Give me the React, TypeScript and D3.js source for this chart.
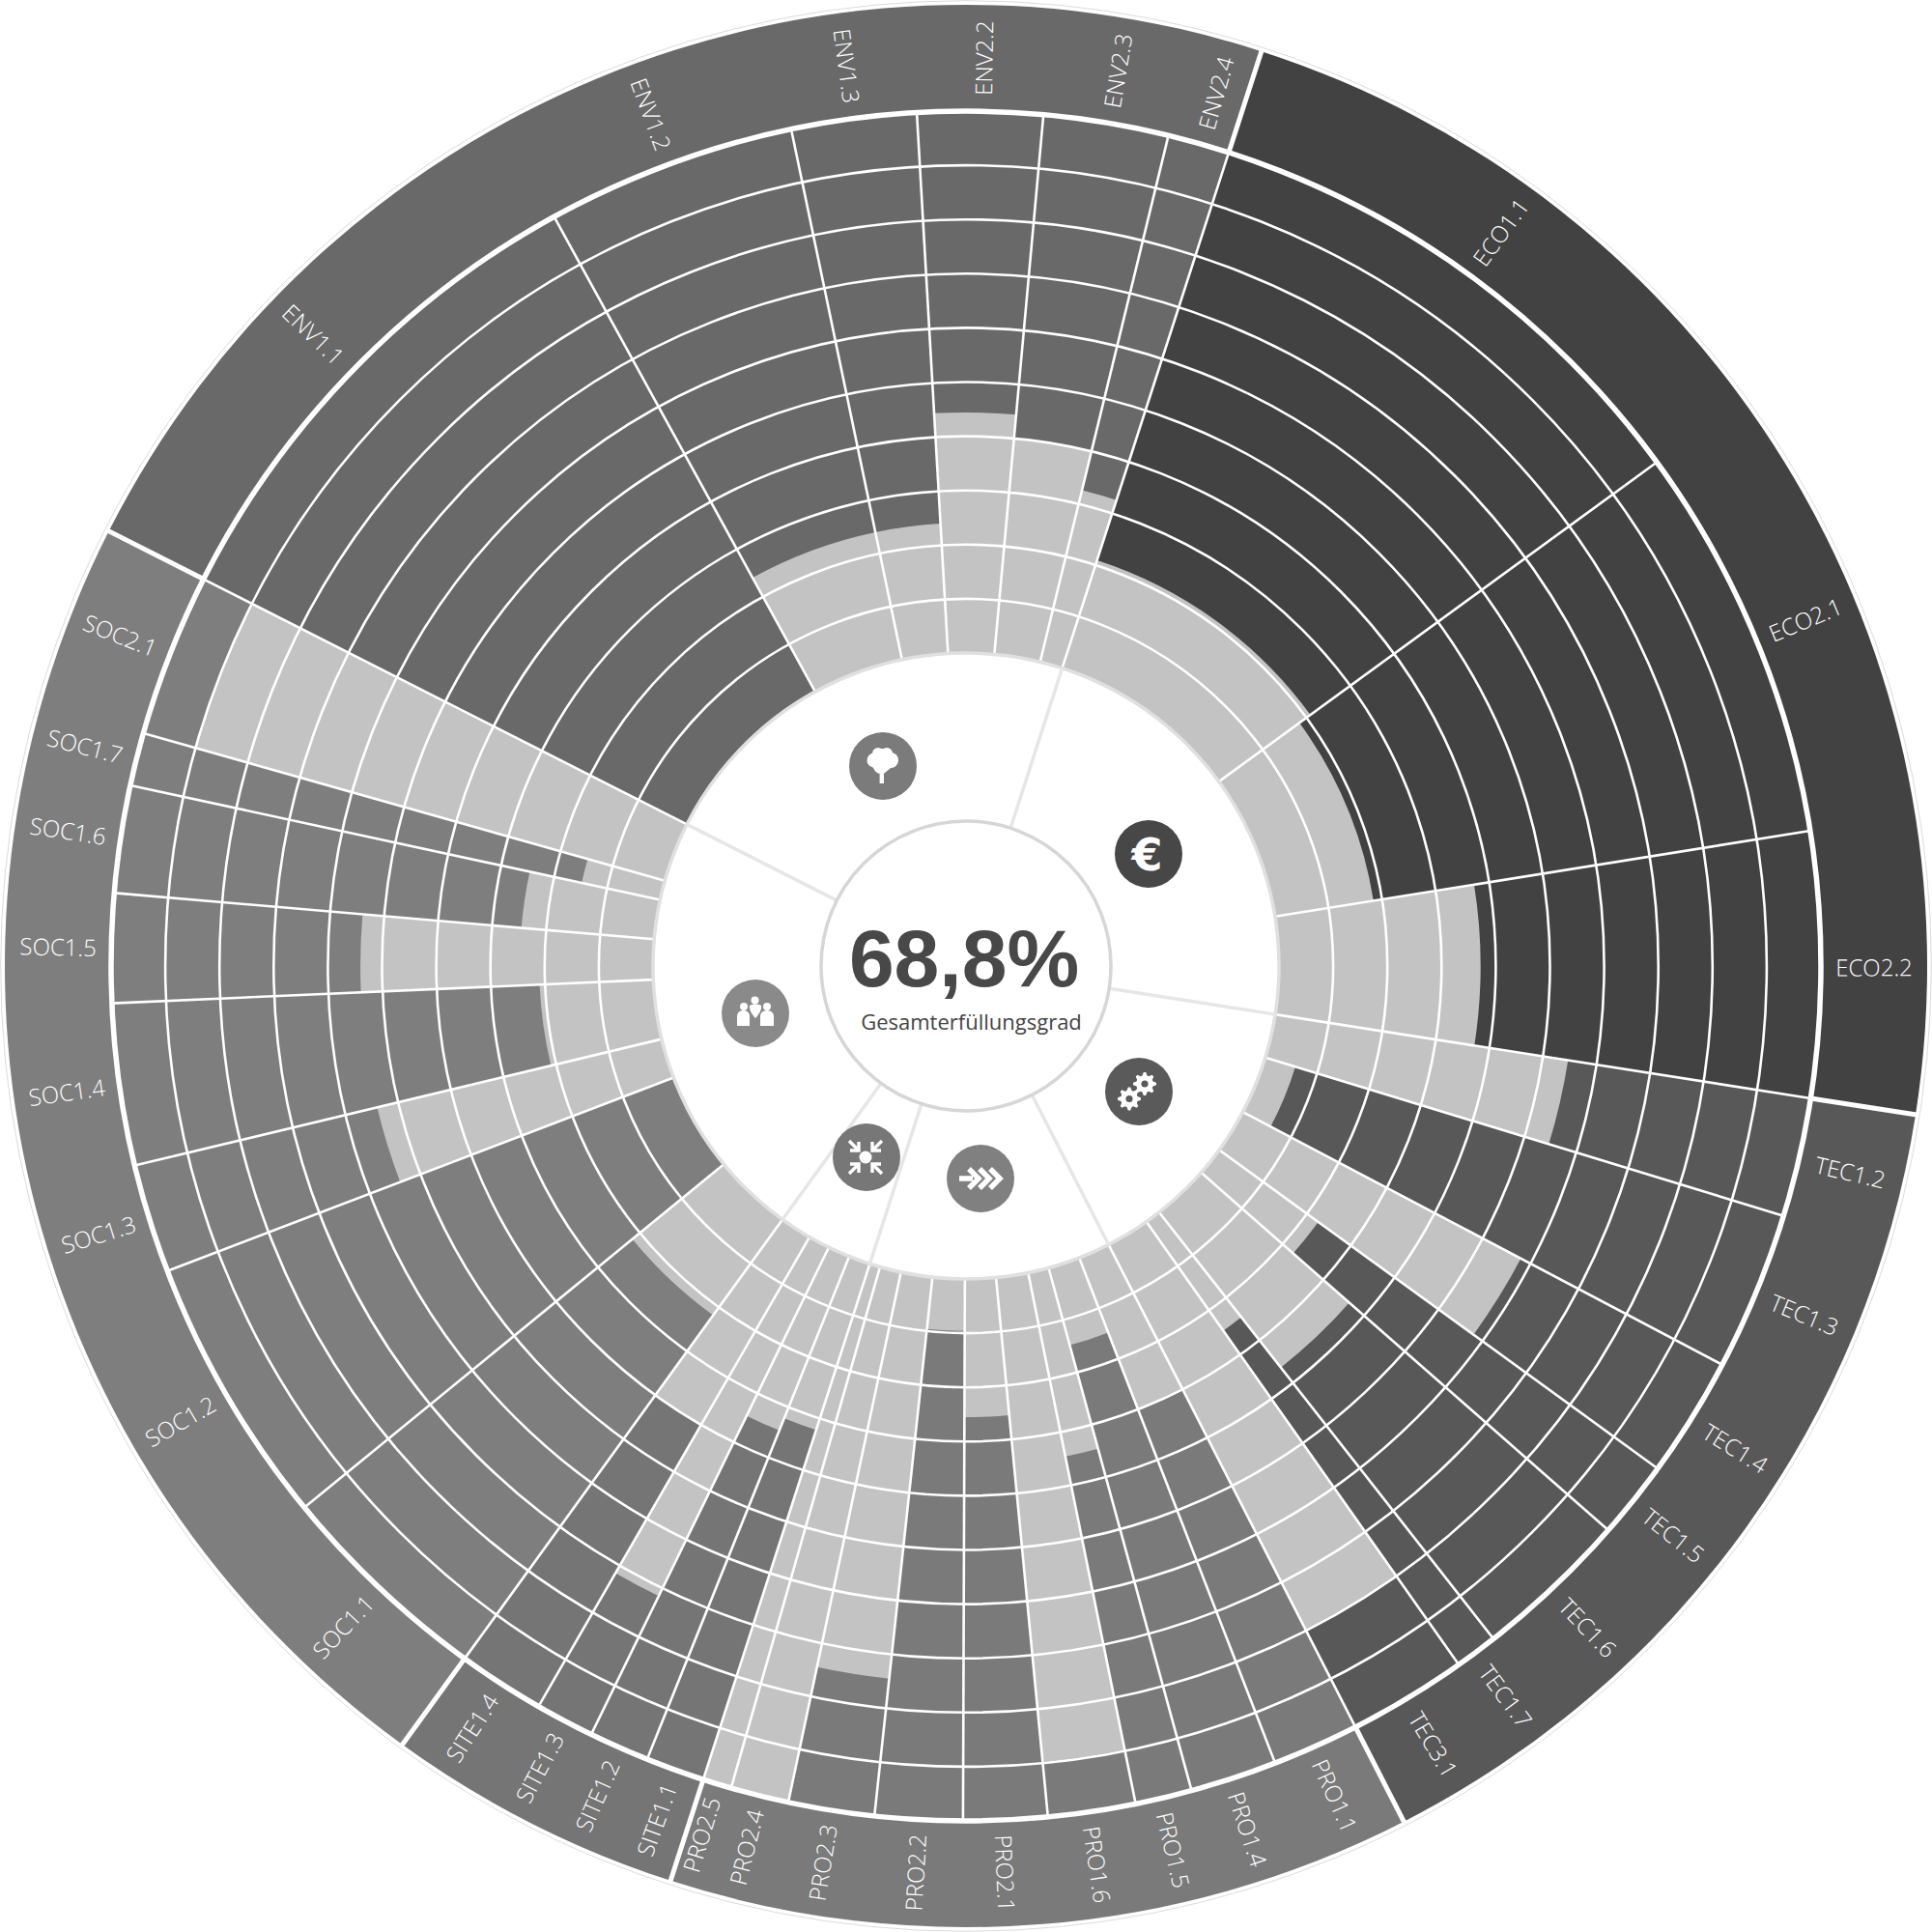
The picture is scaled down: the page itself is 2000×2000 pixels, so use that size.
import React from "react";
import * as d3 from "d3";

const categories = ["ECO1.1","ECO2.1","ECO2.2","TEC1.2","TEC1.3","TEC1.4","TEC1.5","TEC1.6","TEC1.7","TEC3.1","PRO1.1","PRO1.4","PRO1.5","PRO1.6","PRO2.1","PRO2.2","PRO2.3","PRO2.4","PRO2.5","SITE1.1","SITE1.2","SITE1.3","SITE1.4","SOC1.1","SOC1.2","SOC1.3","SOC1.4","SOC1.5","SOC1.6","SOC1.7","SOC2.1","ENV1.1","ENV1.2","ENV1.3","ENV2.2","ENV2.3","ENV2.4"];
const weights = [36,27,18,8.1,10.8,8.2,5.3,10.6,2.9,8.1,5.9,5.9,3.85,5.95,5.7,5.95,5.85,3.95,1.95,4,4.1,4,5.9,14.8,18.4,7.4,11,7.4,7.3,3.6,11.1,34.3,17,8.5,8.5,8.5,4.2];
const fulfilment = [20.9,18.4,37.2,54.7,5.8,58,22.6,36.4,24.6,80,30,14.8,34.6,89.8,25.5,9.6,74.5,100,100,32.2,34.6,71.6,40,21.8,0,54,21,54,24.6,14.8,90,0,24,24,44.4,40,32.6];
const groupNames = ["ECO","TEC","PRO","SITE","SOC","ENV"];
const groupColors = ["#424242","#585858","#7a7a7a","#757575","#7e7e7e","#696969"];
const ringTicks = [10,20,30,40,50,60,70,80,90];
const totalLabel = "68,8%";
const totalCaption = "Gesamterfüllungsgrad";

const R_INNER = 324, R_OUTER = 885, R_BAND = 995;
const C = 1000;
const deg = Math.PI / 180;
const radius = d3.scaleLinear().domain([0, 100]).range([R_INNER, R_OUTER]);
const color = d3.scaleOrdinal<string, string>().domain(groupNames).range(groupColors);
const groupOf = (c: string) => c.replace(/[0-9.]+$/, "");

const pie = d3.pie<number>().sort(null).value((d) => d).startAngle(17.9 * deg).endAngle((360 + 17.9) * deg);
const sectors = pie(weights).map((p, i) => ({
  name: categories[i], group: groupOf(categories[i]), value: fulfilment[i],
  a0: p.startAngle, a1: p.endAngle,
}));
const groupSpans = groupNames.map((g) => {
  const m = sectors.filter((s) => s.group === g);
  return { group: g, a0: m[0].a0, a1: m[m.length - 1].a1 };
});
const arc = d3.arc<any>();
const seg = (r0: number, r1: number, a0: number, a1: number) =>
  arc({ innerRadius: r0, outerRadius: r1, startAngle: a0, endAngle: a1 }) as string;
const line = (a: number, r0: number, r1: number) => {
  const [x0, y0] = d3.pointRadial(a, r0);
  const [x1, y1] = d3.pointRadial(a, r1);
  return { x1: x0, y1: y0, x2: x1, y2: y1 };
};
const groupStarts = groupSpans.map((s) => s.a0);

function gearPath(cx: number, cy: number, r: number, teeth: number) {
  const pts: [number, number][] = [];
  const n = teeth * 4;
  for (let i = 0; i < n; i++) {
    const a = ((i - 0.5) / n) * 2 * Math.PI;
    const rr = i % 4 === 0 || i % 4 === 1 ? r : r * 0.74;
    pts.push([cx + rr * Math.cos(a), cy + rr * Math.sin(a)]);
  }
  return d3.line()(pts) + "Z";
}

function Icon({ x, y, fill, children }: any) {
  return (
    <g transform={`translate(${x},${y})`}>
      <circle r={35} fill={fill} />
      {children}
    </g>
  );
}

export default function App() {
  return (
    <svg width={2000} height={2000} viewBox="0 0 2000 2000" style={{ position: "absolute", left: 0, top: 0, background: "#fff" }}>
      <circle cx={C} cy={C} r={999.3} fill="none" stroke="#d2d2d2" strokeWidth={0.8} />
      <g transform={`translate(${C},${C})`}>
        {groupSpans.map((s) => (
          <path key={"b" + s.group} d={seg(R_OUTER, R_BAND, s.a0, s.a1)} fill={color(s.group)} />
        ))}
        {sectors.map((s) => (
          <path key={"d" + s.name} d={seg(R_INNER, R_OUTER, s.a0, s.a1)} fill={color(s.group)} stroke={color(s.group)} strokeWidth={0.6} />
        ))}
        {sectors.filter((s) => s.value > 0).map((s) => (
          <path key={"l" + s.name} d={seg(R_INNER, radius(s.value), s.a0, s.a1)} fill="#c3c3c3" />
        ))}
        {ringTicks.map((t) => (
          <circle key={t} r={radius(t)} fill="none" stroke="#fff" strokeWidth={2.6} />
        ))}
        {sectors.map((s) => (
          <line key={"r" + s.name} {...line(s.a0, R_INNER, R_OUTER)} stroke="#fff" strokeWidth={2.6} />
        ))}
        <circle r={R_OUTER} fill="none" stroke="#fff" strokeWidth={5.5} />
        {groupStarts.map((a, i) => (
          <line key={"g" + i} {...line(a, R_OUTER, R_BAND + 1)} stroke="#fff" strokeWidth={5} />
        ))}
        <circle r={R_INNER} fill="#fff" stroke="#e0e0e0" strokeWidth={3.5} />
        {groupStarts.map((a, i) => (
          <line key={"s" + i} {...line(a, 150, R_INNER)} stroke="#e6e6e6" strokeWidth={3.5} />
        ))}
        <circle r={150} fill="#fff" stroke="#d6d6d6" strokeWidth={3.5} />
        {sectors.map((s) => {
          const mid = (s.a0 + s.a1) / 2;
          const [x, y] = d3.pointRadial(mid, 940);
          const d = mid / deg;
          const right = d % 360 < 180;
          const rot = right ? d - 90 : d + 90;
          return (
            <text key={"t" + s.name} x={x} y={y} dy={right ? "0.5em" : "0.37em"} textAnchor="middle"
              transform={`rotate(${rot},${x},${y})`} fill="#ffffff"
              style={{ fontFamily: "'Open Sans'", fontWeight: 300, fontSize: 24 }}>
              {s.name}
            </text>
          );
        })}
      </g>

      <text x={998} y={1021} textAnchor="middle" fill="#484848"
        style={{ fontFamily: "'Liberation Sans'", fontWeight: 700, fontSize: 84 }}>{totalLabel}</text>
      <text x={1005.5} y={1066} textAnchor="middle" fill="#444"
        style={{ fontFamily: "'Open Sans'", fontWeight: 400, fontSize: 22 }}>{totalCaption}</text>

      <Icon x={914} y={793} fill="#7b7b7b">
        <g fill="#fff">
          <circle cx={-1} cy={-6} r={12} /><circle cx={-9} cy={-6} r={7.5} /><circle cx={8} cy={-6} r={8} />
          <circle cx={-5} cy={-13} r={6} /><circle cx={4} cy={-13} r={6} /><circle cx={-2} cy={0} r={8} />
          <rect x={-3.4} y={0} width={4.4} height={18} />
        </g>
      </Icon>
      <Icon x={1189} y={884} fill="#474747">
        <text x={-1.5} y={17} textAnchor="middle" fill="#fff" style={{ fontFamily: "'DejaVu Sans'", fontWeight: 700, fontSize: 46 }}>€</text>
      </Icon>
      <Icon x={1179} y={1130} fill="#5a5a5a">
        <path d={gearPath(6, -8, 12, 8)} fill="#fff" /><circle cx={6} cy={-8} r={3.6} fill="#5a5a5a" />
        <path d={gearPath(-10, 7.5, 12, 8)} fill="#fff" /><circle cx={-10} cy={7.5} r={3.6} fill="#5a5a5a" />
      </Icon>
      <Icon x={1015} y={1220} fill="#808080">
        <g fill="none" stroke="#fff" strokeWidth={5.5} strokeLinejoin="miter">
          <path d="M-22,0H-8" />
          <path d="M-12,-10L-2,0L-12,10" /><path d="M-1,-10L9,0L-1,10" /><path d="M10,-10L20,0L10,10" />
        </g>
      </Icon>
      <Icon x={897} y={1198} fill="#777777">
        <circle cx={-1} cy={0} r={6.5} fill="#fff" />
        <g fill="none" stroke="#fff" strokeWidth={3.4}>
          {[[-1, -1], [1, -1], [-1, 1], [1, 1]].map(([sx, sy], i) => (
            <g key={i} transform={`translate(-1,0) scale(${sx},${sy})`}>
              <path d="M17,17L7,7" /><path d="M7,16V7H16" />
            </g>
          ))}
        </g>
      </Icon>
      <Icon x={782} y={1049} fill="#8a8a8a">
        <g fill="#fff">
          <circle cx={-0.5} cy={-13.5} r={4} /><circle cx={-12} cy={-7} r={4} /><circle cx={12} cy={-7} r={4} />
          <path d="M-19,13V3C-19,-5,-6,-5,-6,3V13Z" /><path d="M5,13V3C5,-5,19,-5,19,3V13Z" />
          <path d="M-6,-8C-3,-10,3,-10,6,-8C7,-4,3,2,0,5C-3,2,-7,-4,-6,-8Z" />
        </g>
      </Icon>
    </svg>
  );
}
